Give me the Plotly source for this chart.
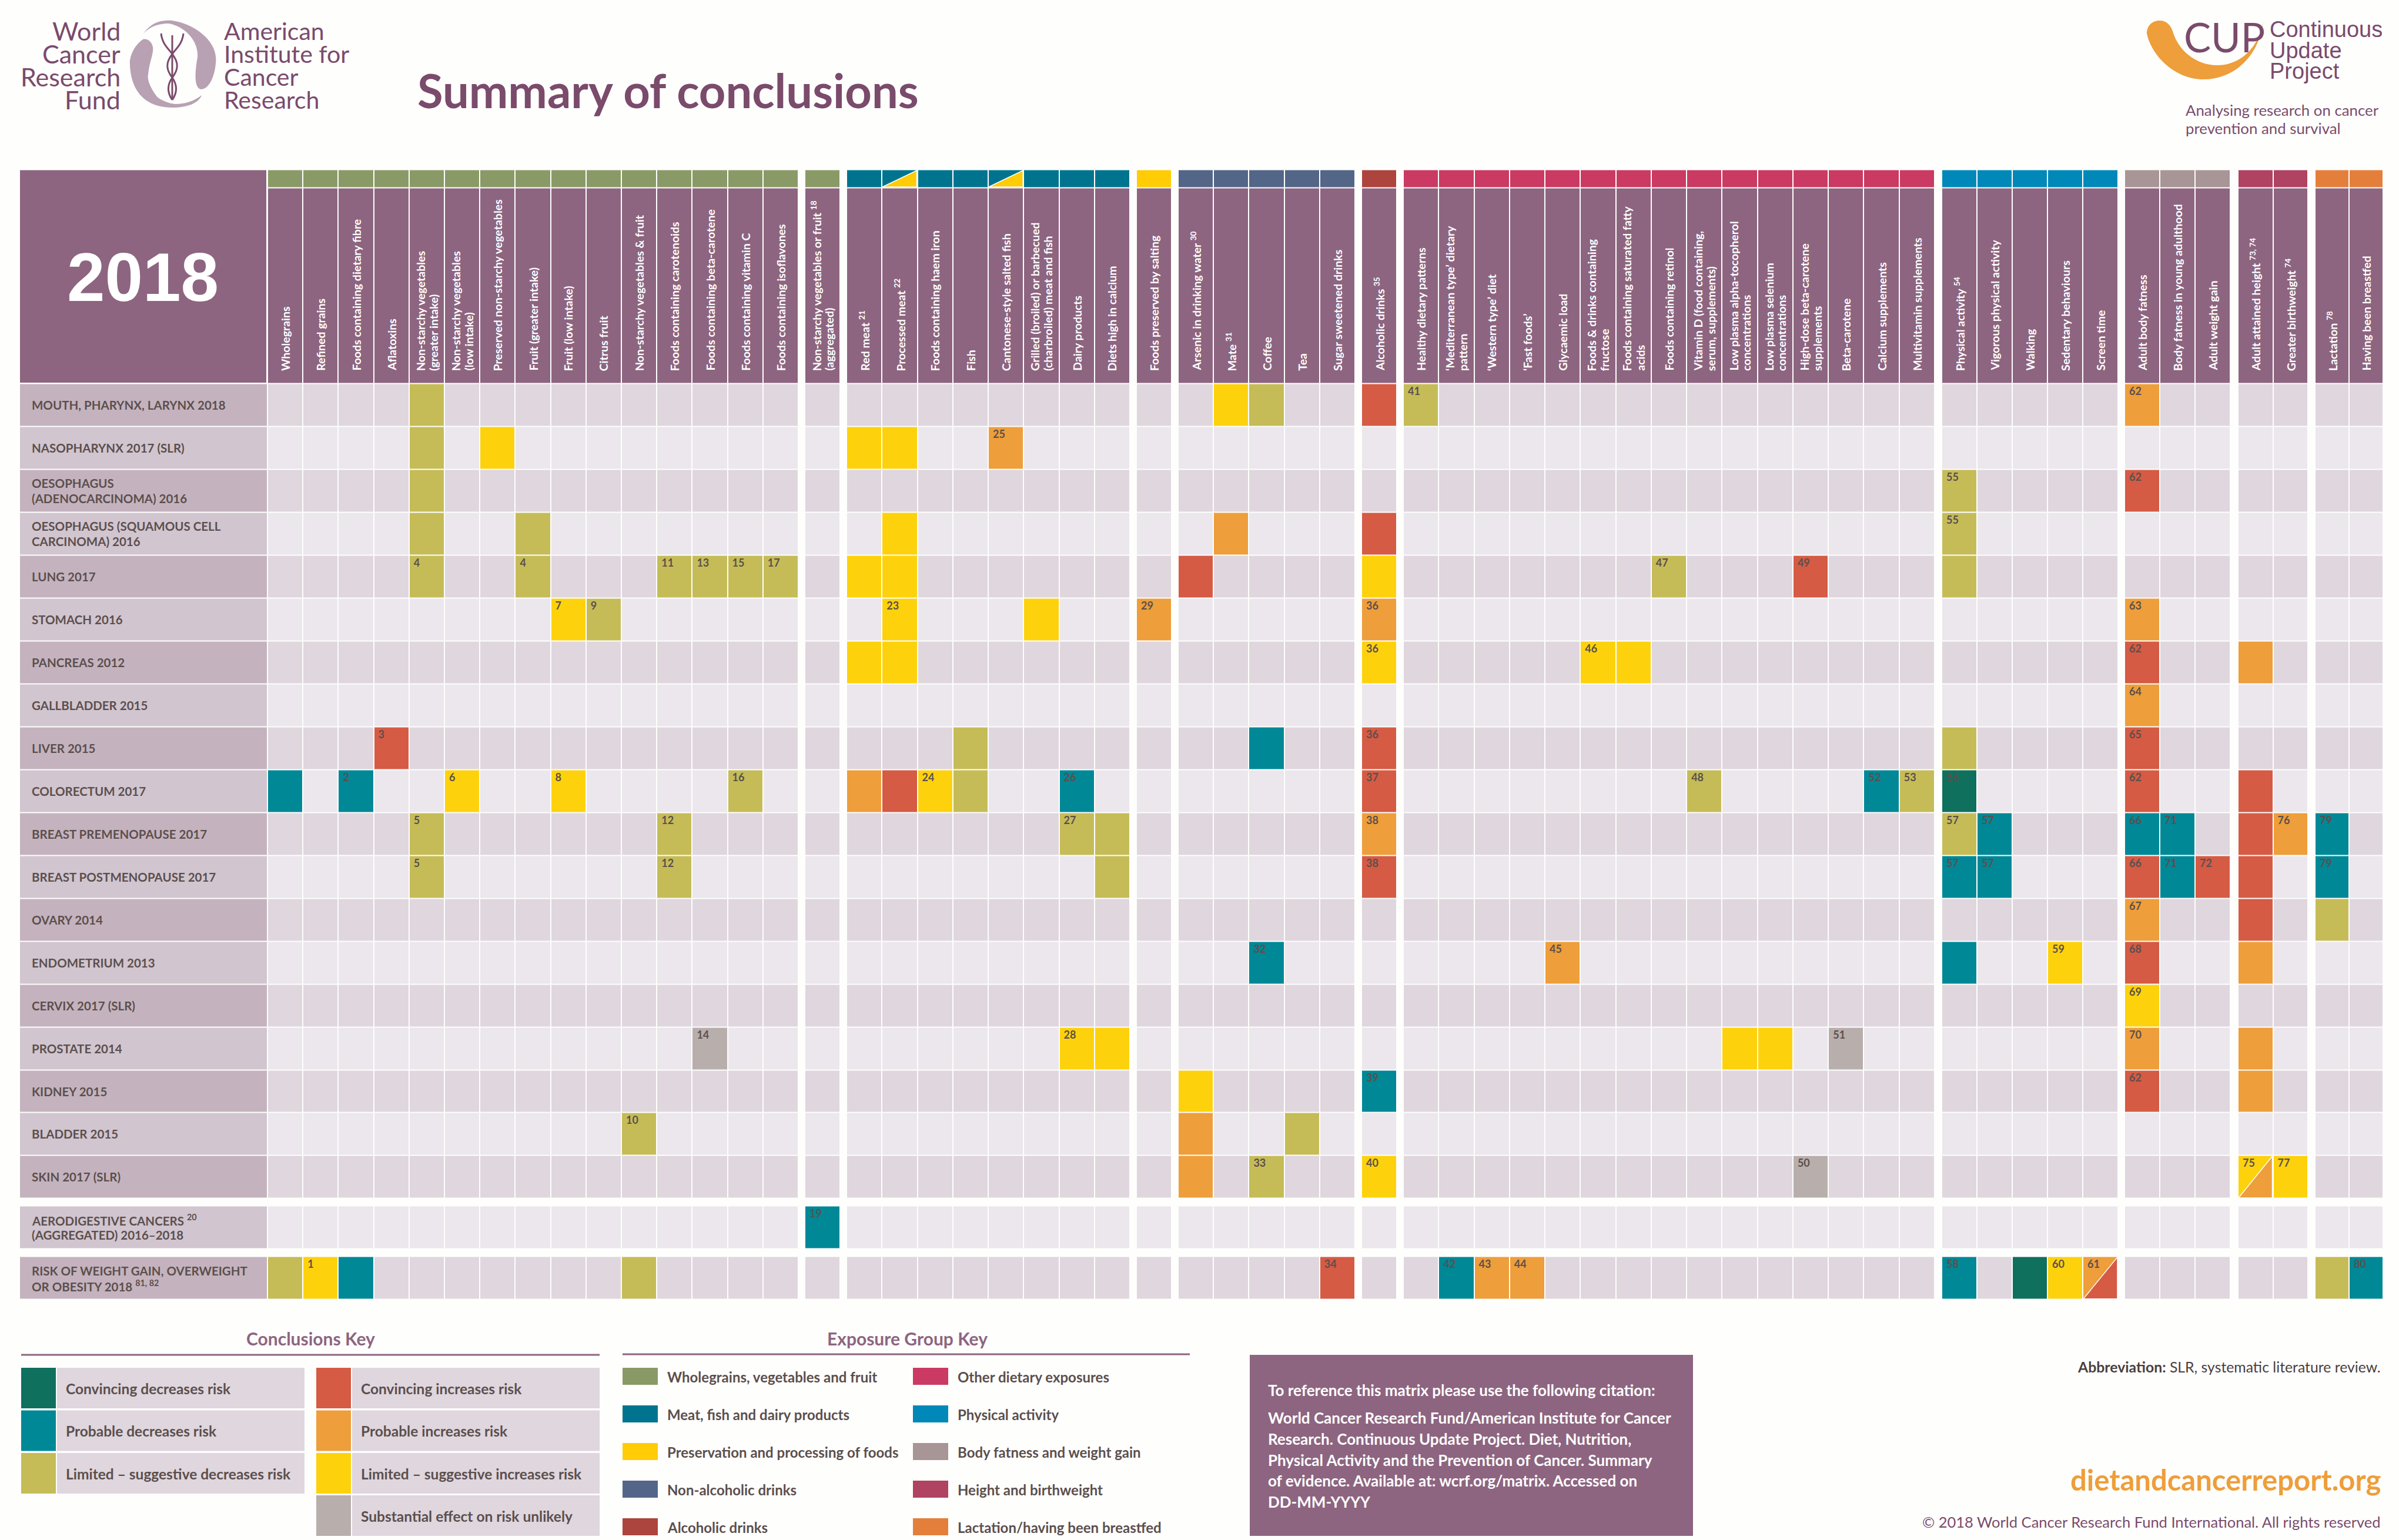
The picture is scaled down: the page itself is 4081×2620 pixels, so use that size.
import plotly.graph_objects as go

NARROW = "Lato"
WIDE = "Liberation Sans"
PURPLE = "#8d6580"
LOGO = "#7a4b6b"
GREY_TXT = "#5b4f4d"
ORANGE = "#ee9e3a"

# conclusions
conc_codes = ["CD", "PD", "LD", "CI", "PI", "LI", "SU"]
conc_colors = ["#0f705d", "#008896", "#c5bc58", "#d55b44", "#ee9e3a", "#fdd20c", "#b8aeab"]
conc_labels = ["Convincing decreases risk", "Probable decreases risk", "Limited – suggestive decreases risk",
               "Convincing increases risk", "Probable increases risk", "Limited – suggestive increases risk",
               "Substantial effect on risk unlikely"]

# exposure groups
group_sizes = [15, 1, 8, 1, 5, 1, 15, 5, 3, 2, 2]
group_colors = ["#8a9a66", "#8a9a66", "#00748f", "#ffcc06", "#536688", "#ad443d", "#ca3a62",
                "#0088b8", "#a89596", "#b04262", "#e47f3b"]
key_names = ["Wholegrains, vegetables and fruit", "Meat, fish and dairy products", "Preservation and processing of foods",
             "Non-alcoholic drinks", "Alcoholic drinks", "Other dietary exposures", "Physical activity",
             "Body fatness and weight gain", "Height and birthweight", "Lactation/having been breastfed"]
key_colors = ["#8a9a66", "#00748f", "#ffcc06", "#536688", "#ad443d", "#ca3a62", "#0088b8", "#a89596", "#b04262", "#e47f3b"]

exposures = [
    "Wholegrains", "Refined grains", "Foods containing dietary fibre", "Aflatoxins",
    "Non-starchy vegetables<br>(greater intake)", "Non-starchy vegetables<br>(low intake)",
    "Preserved non-starchy vegetables", "Fruit (greater intake)", "Fruit (low intake)", "Citrus fruit",
    "Non-starchy vegetables & fruit", "Foods containing carotenoids", "Foods containing beta-carotene",
    "Foods containing vitamin C", "Foods containing isoflavones",
    "Non-starchy vegetables or fruit <sup>18</sup><br>(aggregated)",
    "Red meat <sup>21</sup>", "Processed meat <sup>22</sup>", "Foods containing haem iron", "Fish",
    "Cantonese-style salted fish", "Grilled (broiled) or barbecued<br>(charbroiled) meat and fish",
    "Dairy products", "Diets high in calcium",
    "Foods preserved by salting",
    "Arsenic in drinking water <sup>30</sup>", "Mate <sup>31</sup>", "Coffee", "Tea", "Sugar sweetened drinks",
    "Alcoholic drinks <sup>35</sup>",
    "Healthy dietary patterns", "‘Mediterranean type’ dietary<br>pattern", "‘Western type’ diet", "‘Fast foods’",
    "Glycaemic load", "Foods & drinks containing<br>fructose", "Foods containing saturated fatty<br>acids",
    "Foods containing retinol", "Vitamin D (food containing,<br>serum, supplements)",
    "Low plasma alpha-tocopherol<br>concentrations", "Low plasma selenium<br>concentrations",
    "High-dose beta-carotene<br>supplements", "Beta-carotene", "Calcium supplements", "Multivitamin supplements",
    "Physical activity <sup>54</sup>", "Vigorous physical activity", "Walking", "Sedentary behaviours", "Screen time",
    "Adult body fatness", "Body fatness in young adulthood", "Adult weight gain",
    "Adult attained height <sup>73, 74</sup>", "Greater birthweight <sup>74</sup>",
    "Lactation <sup>78</sup>", "Having been breastfed",
]

cancers = [
    "MOUTH, PHARYNX, LARYNX 2018", "NASOPHARYNX 2017 (SLR)", "OESOPHAGUS<br>(ADENOCARCINOMA) 2016",
    "OESOPHAGUS (SQUAMOUS CELL<br>CARCINOMA) 2016", "LUNG 2017", "STOMACH 2016", "PANCREAS 2012",
    "GALLBLADDER 2015", "LIVER 2015", "COLORECTUM 2017", "BREAST PREMENOPAUSE 2017",
    "BREAST POSTMENOPAUSE 2017", "OVARY 2014", "ENDOMETRIUM 2013", "CERVIX 2017 (SLR)", "PROSTATE 2014",
    "KIDNEY 2015", "BLADDER 2015", "SKIN 2017 (SLR)",
    "AERODIGESTIVE CANCERS <sup>20</sup><br>(AGGREGATED) 2016–2018",
    "RISK OF WEIGHT GAIN, OVERWEIGHT<br>OR OBESITY 2018 <sup>81, 82</sup>",
]

# (exposure index, conclusion, footnote)
mouth = [(4, "LD", ""), (26, "LI", ""), (27, "LD", ""), (30, "CI", ""), (31, "LD", "41"), (51, "PI", "62")]
nasopharynx = [(4, "LD", ""), (6, "LI", ""), (16, "LI", ""), (17, "LI", ""), (20, "PI", "25")]
oes_adeno = [(4, "LD", ""), (46, "LD", "55"), (51, "CI", "62")]
oes_squamous = [(4, "LD", ""), (7, "LD", ""), (17, "LI", ""), (26, "PI", ""), (30, "CI", ""), (46, "LD", "55")]
lung = [(4, "LD", "4"), (7, "LD", "4"), (11, "LD", "11"), (12, "LD", "13"), (13, "LD", "15"), (14, "LD", "17"),
        (16, "LI", ""), (17, "LI", ""), (25, "CI", ""), (30, "LI", ""), (38, "LD", "47"), (42, "CI", "49"), (46, "LD", "")]
stomach = [(8, "LI", "7"), (9, "LD", "9"), (17, "LI", "23"), (21, "LI", ""), (24, "PI", "29"), (30, "PI", "36"), (51, "PI", "63")]
pancreas = [(16, "LI", ""), (17, "LI", ""), (30, "LI", "36"), (36, "LI", "46"), (37, "LI", ""), (51, "CI", "62"), (54, "PI", "")]
gallbladder = [(51, "PI", "64")]
liver = [(3, "CI", "3"), (19, "LD", ""), (27, "PD", ""), (30, "CI", "36"), (46, "LD", ""), (51, "CI", "65")]
colorectum = [(0, "PD", ""), (2, "PD", "2"), (5, "LI", "6"), (8, "LI", "8"), (13, "LD", "16"), (16, "PI", ""), (17, "CI", ""),
              (18, "LI", "24"), (19, "LD", ""), (22, "PD", "26"), (30, "CI", "37"), (39, "LD", "48"), (44, "PD", "52"),
              (45, "LD", "53"), (46, "CD", "56"), (51, "CI", "62"), (54, "CI", "")]
breast_pre = [(4, "LD", "5"), (11, "LD", "12"), (22, "LD", "27"), (23, "LD", ""), (30, "PI", "38"), (46, "LD", "57"),
              (47, "PD", "57"), (51, "PD", "66"), (52, "PD", "71"), (54, "CI", ""), (55, "PI", "76"), (56, "PD", "79")]
breast_post = [(4, "LD", "5"), (11, "LD", "12"), (23, "LD", ""), (30, "CI", "38"), (46, "PD", "57"), (47, "PD", "57"),
               (51, "CI", "66"), (52, "PD", "71"), (53, "CI", "72"), (54, "CI", ""), (56, "PD", "79")]
ovary = [(51, "PI", "67"), (54, "CI", ""), (56, "LD", "")]
endometrium = [(27, "PD", "32"), (35, "PI", "45"), (46, "PD", ""), (49, "LI", "59"), (51, "CI", "68"), (54, "PI", "")]
cervix = [(51, "LI", "69")]
prostate = [(12, "SU", "14"), (22, "LI", "28"), (23, "LI", ""), (40, "LI", ""), (41, "LI", ""), (43, "SU", "51"),
            (51, "PI", "70"), (54, "PI", "")]
kidney = [(25, "LI", ""), (30, "PD", "39"), (51, "CI", "62"), (54, "PI", "")]
bladder = [(10, "LD", "10"), (25, "PI", ""), (28, "LD", "")]
skin = [(25, "PI", ""), (27, "LD", "33"), (30, "LI", "40"), (42, "SU", "50"), (54, "LI", "75"), (55, "LI", "77")]
aerodigestive = [(15, "PD", "19")]
weight_gain = [(0, "LD", ""), (1, "LI", "1"), (2, "PD", ""), (10, "LD", ""), (29, "CI", "34"), (32, "PD", "42"), (33, "PI", "43"),
               (34, "PI", "44"), (46, "PD", "58"), (48, "CD", ""), (49, "LI", "60"), (50, "PI", "61"), (56, "LD", ""), (57, "PD", "80")]
findings = [mouth, nasopharynx, oes_adeno, oes_squamous, lung, stomach, pancreas, gallbladder, liver, colorectum,
            breast_pre, breast_post, ovary, endometrium, cervix, prostate, kidney, bladder, skin, aerodigestive, weight_gain]

# cells split by a diagonal: (row, exposure, conclusion of lower right half)
split_cells = [(18, 54, "PI"), (20, 50, "CI")]
split_bands = [17, 20]

# page layout in pixels
group_left = [455, 1369, 1440, 1933, 2004, 2316, 2387, 3303, 3614, 3807, 3938]
group_right = [1358, 1429, 1922, 1993, 2305, 2376, 3291, 3603, 3794, 3926, 4054]
row_top = 652.5
row_step = 72.97
block_gap = 13
GAP = 2

x_edges = []
col_pos = []
brick_col = []
for g, n in enumerate(group_sizes):
    w = (group_right[g] - group_left[g]) / n
    for i in range(n):
        col_pos.append((group_left[g] + i * w, group_left[g] + (i + 1) * w))
        x_edges.append(group_left[g] + i * w)
        brick_col.append(len(col_pos) - 1)
    x_edges.append(group_right[g])
    brick_col.append(None)
brick_col = brick_col[:-1]

y_edges = []
row_pos = []
brick_row = []
y = row_top
for r in range(len(cancers)):
    if r >= 19:
        y_edges.append(y)
        brick_row.append(None)
        y += block_gap
    y_edges.append(y)
    brick_row.append(r)
    row_pos.append((y, y + row_step))
    y += row_step
y_edges.append(y)

BG_A, BG_B = 7, 8
lookup = [{c: conc_codes.index(k) for c, k, _ in f} for f in findings]
cell_z = []
for r in brick_row:
    if r is None:
        cell_z.append([None] * len(brick_col))
    else:
        bg = BG_A if r % 2 == 0 else BG_B
        if r == 19:
            bg = BG_B
        if r == 20:
            bg = BG_A
        cell_z.append([None if c is None else lookup[r].get(c, bg) for c in brick_col])


def discrete(colors):
    return [[i / (len(colors) - 1), c] for i, c in enumerate(colors)]


fig = go.Figure()
fig.add_trace(go.Heatmap(x=x_edges, y=y_edges, z=cell_z, zmin=0, zmax=8, showscale=False, xgap=GAP, ygap=GAP,
                         colorscale=discrete(conc_colors + ["#dfd6de", "#ebe7ec"]), hoverinfo="skip"))

# row names block
label_z = []
for r in brick_row:
    if r is None:
        label_z.append([None])
    elif r == 19:
        label_z.append([1])
    elif r == 20:
        label_z.append([0])
    else:
        label_z.append([r % 2])
fig.add_trace(go.Heatmap(x=[34, 454], y=y_edges, z=label_z, zmin=0, zmax=1, showscale=False, ygap=GAP,
                         colorscale=discrete(["#c4b3be", "#d1c5cf"]), hoverinfo="skip"))

# coloured band and purple header cells
band_row = []
for g, n in enumerate(group_sizes):
    band_row += [g] * n + [None]
band_row = band_row[:-1]
header_row = [None if v is None else len(group_colors) for v in band_row]
fig.add_trace(go.Heatmap(x=x_edges, y=[288.5, 319, 652.5], z=[band_row, header_row], zmin=0, zmax=len(group_colors),
                         showscale=False, xgap=GAP, ygap=GAP, colorscale=discrete(group_colors + [PURPLE]), hoverinfo="skip"))

# diagonal cells
for c in split_bands:
    l, rr = col_pos[c]
    fig.add_trace(go.Scatter(x=[l + 1, rr - 1, rr - 1, l + 1], y=[318, 290, 318, 318], mode="lines", fill="toself",
                             fillcolor="#ffcc06", line=dict(color="white", width=1.5), hoverinfo="skip", showlegend=False))
for r, c, k in split_cells:
    l, rr = col_pos[c]
    t, b = row_pos[r]
    fig.add_trace(go.Scatter(x=[l + 1, rr - 1, rr - 1, l + 1], y=[b - 1, t + 1, b - 1, b - 1], mode="lines", fill="toself",
                             fillcolor=conc_colors[conc_codes.index(k)], line=dict(color="white", width=1.5),
                             hoverinfo="skip", showlegend=False))

# footnote numbers
note_x, note_y, note_t = [], [], []
for r, f in enumerate(findings):
    for c, k, n in f:
        if n:
            note_x.append(col_pos[c][0] + 8)
            note_y.append(row_pos[r][0] + 15)
            note_t.append(n)
fig.add_trace(go.Scatter(x=note_x, y=note_y, text=note_t, mode="text", textposition="middle right", hoverinfo="skip",
                         textfont=dict(family=NARROW, size=18, color=GREY_TXT, weight=700), showlegend=False))

shapes = []
annots = []


def rect(x0, y0, x1, y1, color):
    shapes.append(dict(type="rect", x0=x0, y0=y0, x1=x1, y1=y1, fillcolor=color, line=dict(width=0), layer="above"))


def path(d, fill=None, line=None, width=0):
    shapes.append(dict(type="path", path=d, fillcolor=fill, line=dict(color=line, width=width), layer="above"))


def txt(x, y, s, size, color=GREY_TXT, bold=False, anchor="left", family=NARROW, angle=0, yanchor="middle"):
    annots.append(dict(x=x, y=y, text=s, showarrow=False, xanchor=anchor, yanchor=yanchor, textangle=angle, borderpad=0,
                       font=dict(family=family, size=size, color=color, weight=700 if bold else 400)))


# header panel, rotated labels, row names
rect(34, 289.5, 453, 651, PURPLE)
txt(243, 472, "2018", 116, "white", True, "center", WIDE)
for c, name in enumerate(exposures):
    mid = sum(col_pos[c]) / 2
    lines = name.split("<br>")
    for i, s in enumerate(lines):
        txt(mid + (i - (len(lines) - 1) / 2) * 22, 632, s, 19.5, "white", True, "center", angle=-90, yanchor="bottom")
for r, name in enumerate(cancers):
    lines = name.split("<br>")
    mid = sum(row_pos[r]) / 2
    for i, s in enumerate(lines):
        txt(53, mid + (i - (len(lines) - 1) / 2) * 25.5, s, 20.5, GREY_TXT, True)

# top left: logo and title
for i, s in enumerate(["World", "Cancer", "Research", "Fund"]):
    txt(206, 52 + i * 39, s, 43, LOGO, False, "right")
for i, s in enumerate(["American", "Institute for", "Cancer", "Research"]):
    txt(380, 52 + i * 39, s, 41, LOGO)
path("M 244 57 C 256 40 272 33 293 35 C 330 40 372 70 367 107 C 366 125 358 150 343 152 C 330 152 331 125 336 97 C 338 70 315 45 287 40 C 270 40 255 45 244 57 Z", "#b8a1b2")
path("M 243 67 C 225 80 220 100 221 110 C 222 140 235 183 293 183 C 320 183 338 175 343 162 C 330 172 315 177 298 177 C 280 175 266 165 266 163 C 256 150 250 135 252 127 C 254 105 262 90 260 80 C 258 70 250 65 243 67 Z", "#b8a1b2")
path("M 293 60 L 293 170", None, LOGO, 3)
path("M 274 57 C 276 75 286 82 293 92 C 304 106 304 118 293 132 C 284 145 284 157 293 170", None, LOGO, 3)
path("M 312 57 C 310 75 300 82 293 92 C 282 106 282 118 293 132 C 302 145 302 157 293 170", None, LOGO, 3)
txt(709, 153, "Summary of conclusions", 79.5, LOGO, True)

# top right: CUP logo
path("M 3674 35 C 3660 35 3652 45 3652 57 C 3660 95 3700 135 3748 135 C 3805 135 3845 90 3850 35 C 3845 75 3815 111 3772 111 C 3735 111 3705 85 3696 53 C 3692 42 3685 35 3674 35 Z", ORANGE)
txt(3714, 62, "CUP", 69, LOGO, False, "left")
for i, s in enumerate(["Continuous", "Update", "Project"]):
    txt(3860, 50 + i * 35.5, s, 38, LOGO, False, "left", WIDE)
txt(3717, 187, "Analysing research on cancer", 25.8, LOGO)
txt(3717, 218, "prevention and survival", 25.8, LOGO)

# conclusions key
txt(528, 2277, "Conclusions Key", 30, PURPLE, True, "center")
rect(36, 2303.5, 1020, 2306.5, PURPLE)
key_rows = [2327, 2399.5, 2472, 2544]
key_cells = [(36, 0, 0), (36, 1, 1), (36, 2, 2), (538, 3, 0), (538, 4, 1), (538, 5, 2), (538, 6, 3)]
for kx, k, kr in key_cells:
    rect(kx, key_rows[kr], kx + 59, key_rows[kr] + 69, conc_colors[k])
    rect(kx + 61, key_rows[kr], kx + 482, key_rows[kr] + 69, "#dfd6de")
    txt(kx + 75, key_rows[kr] + 35, conc_labels[k], 24.5, GREY_TXT, True)

# exposure group key
txt(1543, 2277, "Exposure Group Key", 30, PURPLE, True, "center")
rect(1059, 2302.5, 2024, 2305.5, PURPLE)
for i, s in enumerate(key_names):
    kx = 1059 if i < 5 else 1553
    ky = 2327 + (i % 5) * 64
    rect(kx, ky, kx + 60, ky + 29, key_colors[i])
    txt(kx + 75, ky + 15, s, 24, GREY_TXT, True)

# citation box
rect(2126, 2305, 2880, 2613, PURPLE)
txt(2156, 2365, "To reference this matrix please use the following citation:", 26, "white", True)
citation = ["World Cancer Research Fund/American Institute for Cancer", "Research. Continuous Update Project. Diet, Nutrition,",
            "Physical Activity and the Prevention of Cancer. Summary", "of evidence. Available at: wcrf.org/matrix. Accessed on", "DD-MM-YYYY"]
for i, s in enumerate(citation):
    txt(2156, 2412 + i * 35.8, s, 26, "white", True)

txt(4051, 2325, "<b>Abbreviation:</b> SLR, systematic literature review.", 24.8, "#4a403e", False, "right")
txt(4051, 2517, "dietandcancerreport.org", 49, ORANGE, True, "right")
txt(4051, 2589, "© 2018 World Cancer Research Fund International. All rights reserved", 25.5, LOGO, False, "right")

fig.update_layout(
    width=4081, height=2620, margin=dict(l=0, r=0, t=0, b=0), showlegend=False,
    paper_bgcolor="#fefefd", plot_bgcolor="#fefefd", shapes=shapes, annotations=annots,
    xaxis=dict(range=[0, 4081], visible=False, fixedrange=True),
    yaxis=dict(range=[2620, 0], visible=False, fixedrange=True),
)
fig.write_html("out.html", config={"displayModeBar": False}, post_script="document.body.style.margin = '0';")
